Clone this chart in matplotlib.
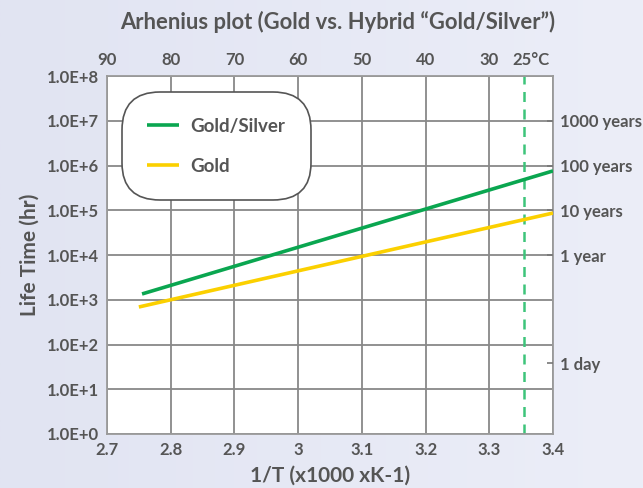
import numpy as np
import matplotlib.pyplot as plt
from matplotlib.colors import LinearSegmentedColormap

# データ
x_gold_silver = [2.755, 3.4]
y_gold_silver = [1.35e3, 7.6e5]
x_gold = [2.75, 3.4]
y_gold = [6.9e2, 8.7e4]

x_ticks = [2.7, 2.8, 2.9, 3.0, 3.1, 3.2, 3.3, 3.4]
x_ticklabels = ["2.7", "2.8", "2.9", "3", "3.1", "3.2", "3.3", "3.4"]
y_ticks = [1e0, 1e1, 1e2, 1e3, 1e4, 1e5, 1e6, 1e7, 1e8]
y_ticklabels = ["1.0E+0", "1.0E+1", "1.0E+2", "1.0E+3", "1.0E+4",
                "1.0E+5", "1.0E+6", "1.0E+7", "1.0E+8"]
temp_ticks = [2.7, 2.8, 2.9, 3.0, 3.1, 3.2, 3.3, 3.365]
temp_labels = ["90", "80", "70", "60", "50", "40", "30", "25\u00b0C"]
right_ticks = [1e7, 1e6, 1e5, 1e4, 38]
right_labels = ["1000 years", "100 years", "10 years", "1 year", "1 day"]
x_25c = 1000 / 298.15

plt.rcParams['font.family'] = ['Lato', 'DejaVu Sans']
text_col = "#555555"
grid_col = "#888888"
tick_size = 12

fig = plt.figure(figsize=(6.43, 4.88), dpi=100)

# 背景のグラデーション
bg = fig.add_axes([0, 0, 1, 1], zorder=-10)
grad = np.linspace(0, 1, 256).reshape(1, -1)
cmap = LinearSegmentedColormap.from_list("bg", ["#e1e4f2", "#eceef8"])
bg.imshow(grad, aspect="auto", cmap=cmap, extent=[0, 1, 0, 1])
bg.axis("off")

ax = fig.add_axes([0.1664, 0.1107, 0.6936, 0.7333])
ax.set_facecolor("white")
ax.set_yscale("log")
ax.set_xlim(2.7, 3.4)
ax.set_ylim(1e0, 1e8)

ax.plot(x_gold_silver, y_gold_silver, color="#0aa650", lw=2.6, label="Gold/Silver",
        solid_capstyle="butt", zorder=3)
ax.plot(x_gold, y_gold, color="#fbd000", lw=2.6, label="Gold",
        solid_capstyle="butt", zorder=3)
ax.axvline(x_25c, color="#3dc47a", lw=1.8, ls=(0, (4, 3)), zorder=2)

ax.set_xticks(x_ticks)
ax.set_xticklabels(x_ticklabels)
ax.set_yticks(y_ticks)
ax.set_yticklabels(y_ticklabels)
ax.minorticks_off()
ax.grid(True, color=grid_col, lw=1.3)
ax.tick_params(length=0, labelsize=tick_size, colors=text_col, pad=6)
for lbl in ax.get_xticklabels() + ax.get_yticklabels():
    lbl.set_fontweight("bold")
for s in ax.spines.values():
    s.set_color("#9a9a9a")
    s.set_linewidth(1.3)

ax.set_xlabel("1/T (x1000 xK-1)", fontsize=15, fontweight="bold", color=text_col, labelpad=5)
ax.set_ylabel("Life Time (hr)", fontsize=15, fontweight="bold", color=text_col, labelpad=5)

# 上軸 (温度)
top = ax.twiny()
top.set_xlim(ax.get_xlim())
top.set_xticks(temp_ticks)
top.set_xticklabels(temp_labels)
top.tick_params(length=0, labelsize=tick_size, colors=text_col, pad=6)
for lbl in top.get_xticklabels():
    lbl.set_fontweight("bold")
for s in top.spines.values():
    s.set_visible(False)

# 右軸 (寿命)
right = ax.twinx()
right.set_yscale("log")
right.set_ylim(ax.get_ylim())
right.set_yticks(right_ticks)
right.set_yticklabels(right_labels)
right.minorticks_off()
right.tick_params(direction="in", length=4, width=1.2, color="#777777",
                  labelsize=tick_size, labelcolor=text_col, pad=5)
for lbl in right.get_yticklabels():
    lbl.set_fontweight("bold")
for s in right.spines.values():
    s.set_visible(False)

fig.suptitle("Arhenius plot (Gold vs. Hybrid \u201cGold/Silver\u201d)", x=0.525, y=0.978,
             fontsize=15.8, fontweight="bold", color=text_col)

leg = ax.legend(loc="upper left", bbox_to_anchor=(0.034, 0.955), fontsize=13.5,
                frameon=True, handlelength=1.7, handletextpad=0.6,
                labelspacing=1.25, borderpad=1.35, borderaxespad=0)
frame = leg.get_frame()
frame.set_boxstyle("round", pad=0.0, rounding_size=2.0)
frame.set_edgecolor("#555555")
frame.set_linewidth(1.2)
frame.set_facecolor("white")
frame.set_alpha(1)
for t in leg.get_texts():
    t.set_color(text_col)
    t.set_fontweight("bold")
leg.set_zorder(5)

fig.savefig("out.png", dpi=100)
